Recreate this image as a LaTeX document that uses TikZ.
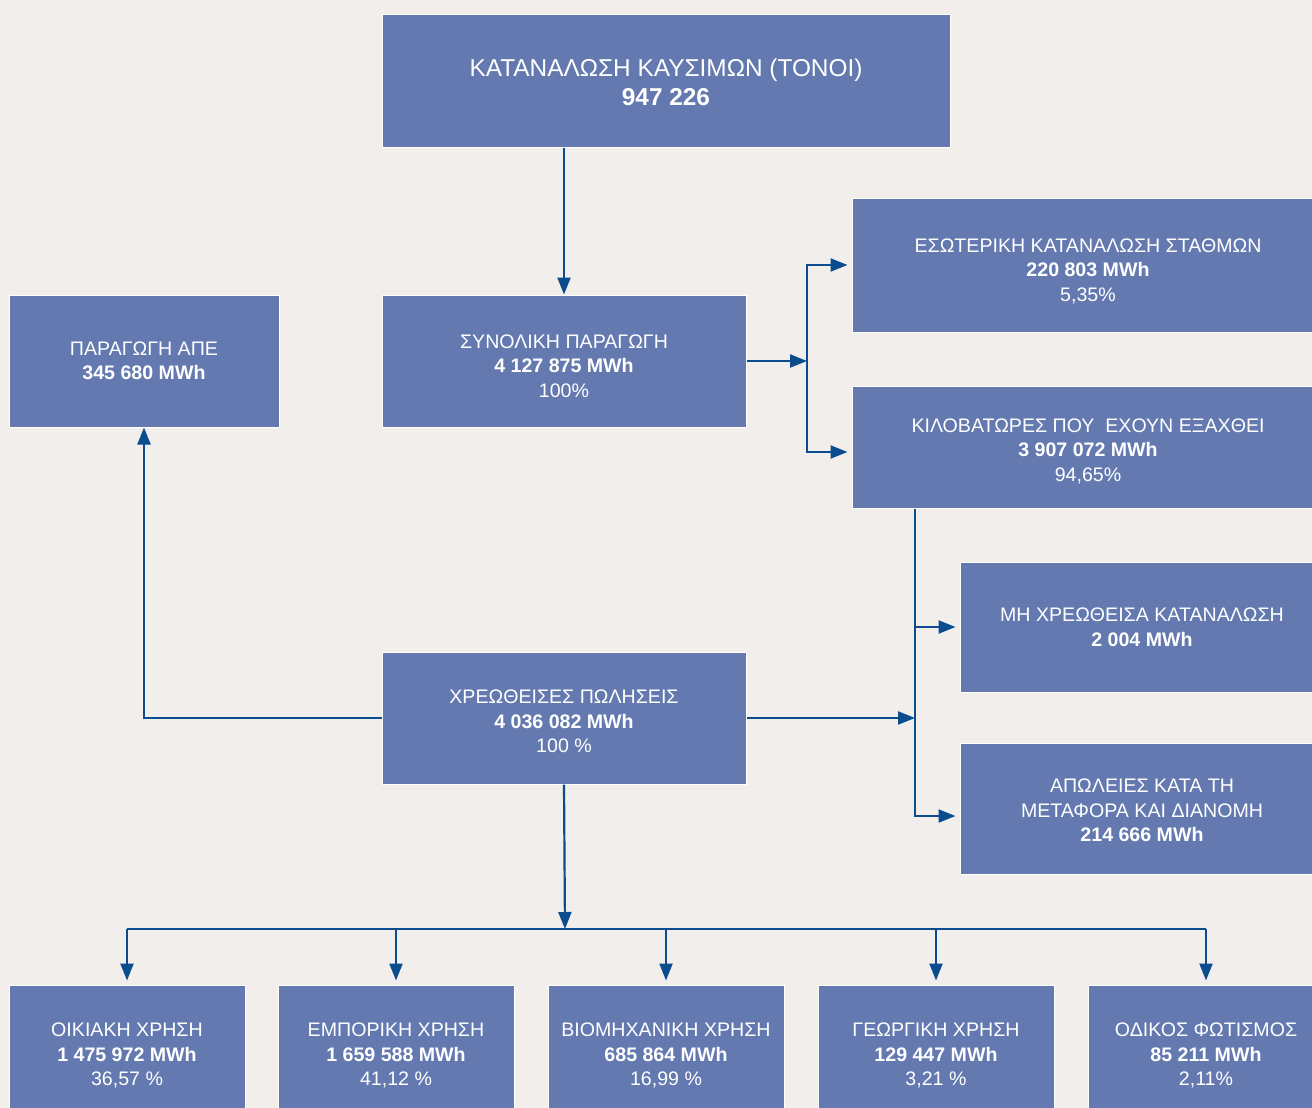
\documentclass[tikz,border=0pt]{standalone}
\usepackage{fontspec}
\setmainfont{Liberation Sans}
\usetikzlibrary{arrows.meta}
\definecolor{boxblue}{HTML}{6379B0}
\definecolor{linkblue}{HTML}{0B4C8F}
\definecolor{paper}{HTML}{F2EEEB}
\newcommand{\lift}[1]{\rule{0pt}{#1}}
\begin{document}
\begin{tikzpicture}[x=1pt,y=-1pt,
	box/.style={fill=boxblue, draw=white, line width=1pt, text=white, align=center, inner sep=0pt, font=\fontsize{19.6}{24.5}\selectfont},
	link/.style={draw=linkblue, line width=2.2pt, -{Triangle[length=17pt,width=13pt]}},
	bar/.style={draw=linkblue, line width=2.2pt}]
			\useasboundingbox (0,0) rectangle (1312,1108);
			\fill[paper] (0,0) rectangle (1312,1108);
			% top row
			\node[box, minimum width=568pt, minimum height=132pt, font=\fontsize{24.4}{29}\selectfont] (fuel) at (666,81) {\lift{20pt}ΚΑΤΑΝΑΛΩΣΗ ΚΑΥΣΙΜΩΝ (ΤΟΝΟΙ)\\\textbf{947 226}};
			\node[box, minimum width=270pt, minimum height=132pt] (ape) at (144,361) {ΠΑΡΑΓΩΓΗ ΑΠΕ\\\textbf{345 680 MWh}};
			\node[box, minimum width=364pt, minimum height=132pt] (total) at (564,361) {\lift{24pt}ΣΥΝΟΛΙΚΗ ΠΑΡΑΓΩΓΗ\\\textbf{4 127 875 MWh}\\100\%};
			\node[box, minimum width=472pt, minimum height=134pt] (inner) at (1088,265) {\lift{26pt}ΕΣΩΤΕΡΙΚΗ ΚΑΤΑΝΑΛΩΣΗ ΣΤΑΘΜΩΝ\\\textbf{220 803 MWh}\\5,35\%};
			\node[box, minimum width=472pt, minimum height=122pt] (kilo) at (1088,447) {\lift{22pt}ΚΙΛΟΒΑΤΩΡΕΣ ΠΟΥ \ ΕΧΟΥΝ ΕΞΑΧΘΕΙ\\\textbf{3 907 072 MWh}\\94,65\%};
			% middle
			\node[box, minimum width=364pt, minimum height=132pt] (sold) at (564,718) {\lift{21pt}ΧΡΕΩΘΕΙΣΕΣ ΠΩΛΗΣΕΙΣ\\\textbf{4 036 082 MWh}\\100 \%};
			\node[box, minimum width=364pt, minimum height=130pt] (uncharged) at (1142,627) {ΜΗ ΧΡΕΩΘΕΙΣΑ ΚΑΤΑΝΑΛΩΣΗ\\\textbf{2 004 MWh}};
			\node[box, minimum width=364pt, minimum height=131pt] (losses) at (1142,809) {\lift{17pt}ΑΠΩΛΕΙΕΣ ΚΑΤΑ ΤΗ\\ΜΕΤΑΦΟΡΑ ΚΑΙ ΔΙΑΝΟΜΗ\\\textbf{214 666 MWh}};
			% bottom row
			\node[box, minimum width=236pt, minimum height=136pt] (home) at (127,1053) {\lift{19pt}ΟΙΚΙΑΚΗ ΧΡΗΣΗ\\\textbf{1 475 972 MWh}\\36,57 \%};
			\node[box, minimum width=236pt, minimum height=136pt] (trade) at (396,1053) {\lift{19pt}ΕΜΠΟΡΙΚΗ ΧΡΗΣΗ\\\textbf{1 659 588 MWh}\\41,12 \%};
			\node[box, minimum width=236pt, minimum height=136pt] (industry) at (666,1053) {\lift{19pt}ΒΙΟΜΗΧΑΝΙΚΗ ΧΡΗΣΗ\\\textbf{685 864 MWh}\\16,99 \%};
			\node[box, minimum width=236pt, minimum height=136pt] (farm) at (936,1053) {\lift{19pt}ΓΕΩΡΓΙΚΗ ΧΡΗΣΗ\\\textbf{129 447 MWh}\\3,21 \%};
			\node[box, minimum width=236pt, minimum height=136pt] (road) at (1206,1053) {\lift{19pt}ΟΔΙΚΟΣ ΦΩΤΙΣΜΟΣ\\\textbf{85 211 MWh}\\2,11\%};
			% connectors
			\coordinate (split) at (807,361);
			\coordinate (drop) at (915,718);
			\coordinate (bus) at (565,929);
			\draw[link] (total.north |- fuel.south) -- (total.north);
			\draw[link] (total.east) -- (split);
			\draw[link] (split) |- ([xshift=-4pt]inner.west);
			\draw[link] (split) |- ([xshift=-4pt,yshift=-5pt]kilo.west);
			\draw[link] (sold.east) -- (drop);
			\draw[link] (drop |- kilo.south) |- ([xshift=-4pt,yshift=-7pt]losses.west);
			\draw[link] (drop |- uncharged.west) -- ([xshift=-4pt]uncharged.west);
			\draw[link] (sold.west) -| (ape.south);
			\draw[link] (sold.south) -- (bus);
			\draw[bar] (home.north |- bus) -- (road.north |- bus);
			\foreach \n in {home,trade,industry,farm,road}
				\draw[link] (\n.north |- bus) -- ([yshift=4pt]\n.north);
		\end{tikzpicture}
\end{document}
